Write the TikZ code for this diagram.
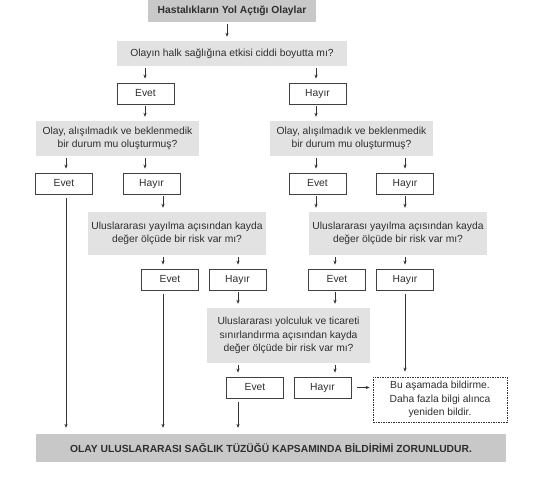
\documentclass[tikz,border=0pt]{standalone}
\usepackage{fontspec}
\setmainfont{Liberation Sans}
\usetikzlibrary{arrows.meta}
\definecolor{darkfill}{HTML}{C8C8C8}
\definecolor{lightfill}{HTML}{E2E2E2}
\definecolor{inkgray}{HTML}{2E2E2E}
\tikzset{
every node/.style=
    {inner sep=0pt,
    text=inkgray,
    font=\fontsize{10.3}{13.7}\selectfont,
    align=center
    },
titlebox/.style=
    {fill=darkfill,
    minimum width=168,
    minimum height=22,
    font=\fontsize{10.3}{13.7}\selectfont\bfseries
    },
questionbox/.style=
    {fill=lightfill,
    minimum height=#1
    },
answerbox/.style=
    {draw=black!75,
    line width=0.8pt,
    fill=white,
    minimum width=57,
    minimum height=21,
    text height=7.5pt,
    text depth=2pt
    },
notebox/.style=
    {draw=black!80,
    dash pattern=on 1.5pt off 1pt,
    line width=0.7pt,
    minimum width=134,
    minimum height=45
    },
finalbox/.style=
    {fill=darkfill,
    minimum width=470,
    minimum height=28,
    font=\fontsize{10.3}{13.7}\selectfont\bfseries
    },
arr/.style=
    {draw=black!80,
    line width=0.6pt,
    -{Stealth[length=4pt,width=3.2pt]},
    shorten <=2pt,
    shorten >=4pt
    },
longarr/.style=
    {arr,
    shorten <=4pt,
    shorten >=6pt
    }}

\begin{document}
\begin{tikzpicture}[x=1pt,y=-1pt]
\useasboundingbox (0,0) rectangle (552,477);

\coordinate (xa) at (66,0);
\coordinate (xb) at (145,0);
\coordinate (xc) at (163,0);
\coordinate (xd) at (227,0);
\coordinate (xe) at (238,0);
\coordinate (xf) at (316,0);
\coordinate (xg) at (335,0);
\coordinate (xh) at (405,0);

\node[titlebox] (title) at (232,11) {Hastalıkların Yol Açtığı Olaylar};
\node[questionbox=25, minimum width=230] (q1) at (232,53.5) {Olayın halk sağlığına etkisi ciddi boyutta mı?};
\node[answerbox] (ev1) at (145.5,93.5) {Evet};
\node[answerbox] (hy1) at (317.5,93.5) {Hayır};

\node[questionbox=35, minimum width=163] (q2l) at (117.5,138.5) {Olay, alışılmadık ve beklenmedik\\bir durum mu oluşturmuş?};
\node[questionbox=35, minimum width=163] (q2r) at (351.5,138.5) {Olay, alışılmadık ve beklenmedik\\bir durum mu oluşturmuş?};
\node[answerbox] (ev2l) at (64,183.5) {Evet};
\node[answerbox] (hy2l) at (151.5,183.5) {Hayır};
\node[answerbox] (ev2r) at (317.5,183.5) {Evet};
\node[answerbox] (hy2r) at (405,183.5) {Hayır};

\node[questionbox=43, minimum width=178] (q3l) at (177,233.5) {Uluslararası yayılma açısından kayda\\değer ölçüde bir risk var mı?};
\node[questionbox=43, minimum width=178] (q3r) at (398,233.5) {Uluslararası yayılma açısından kayda\\değer ölçüde bir risk var mı?};
\node[answerbox] (ev3l) at (170,279.5) {Evet};
\node[answerbox] (hy3l) at (237.5,279.5) {Hayır};
\node[answerbox] (ev3r) at (337,279.5) {Evet};
\node[answerbox] (hy3r) at (405,279.5) {Hayır};

\node[questionbox=55, minimum width=163] (q4) at (288.5,335.5) {Uluslararası yolculuk ve ticareti\\sınırlandırma açısından kayda\\değer ölçüde bir risk var mı?};
\node[answerbox] (ev4) at (255,387.5) {Evet};
\node[answerbox] (hy4) at (322.5,387.5) {Hayır};
\node[notebox] (note) at (440,399.5) {Bu aşamada bildirme.\\Daha fazla bilgi alınca\\yeniden bildir.};

\node[finalbox] (final) at (271,448) {OLAY ULUSLARARASI SAĞLIK TÜZÜĞÜ KAPSAMINDA BİLDİRİMİ ZORUNLUDUR.};

\draw[arr] (title.south -| xd) -- (q1.north -| xd);
\draw[arr] (q1.south -| xb) -- (ev1.north -| xb);
\draw[arr] (q1.south -| xf) -- (hy1.north -| xf);
\draw[arr] (ev1.south -| xb) -- (q2l.north -| xb);
\draw[arr] (hy1.south -| xf) -- (q2r.north -| xf);

\draw[arr] (q2l.south -| xa) -- (ev2l.north -| xa);
\draw[arr] (q2l.south -| xb) -- (hy2l.north -| xb);
\draw[arr] (q2r.south -| xf) -- (ev2r.north -| xf);
\draw[arr] (q2r.south -| xh) -- (hy2r.north -| xh);
\draw[arr] (hy2l.south -| xc) -- (q3l.north -| xc);
\draw[arr] (ev2r.south -| xf) -- (q3r.north -| xf);
\draw[arr] (hy2r.south -| xh) -- (q3r.north -| xh);

\draw[arr] (q3l.south -| xc) -- (ev3l.north -| xc);
\draw[arr] (q3l.south -| xe) -- (hy3l.north -| xe);
\draw[arr] (q3r.south -| xg) -- (ev3r.north -| xg);
\draw[arr] (q3r.south -| xh) -- (hy3r.north -| xh);
\draw[arr] (hy3l.south -| xe) -- (q4.north -| xe);
\draw[arr] (ev3r.south -| xg) -- (q4.north -| xg);

\draw[arr] (q4.south -| xe) -- (ev4.north -| xe);
\draw[arr] (q4.south -| xg) -- (hy4.north -| xg);
\draw[arr, shorten <=6pt, shorten >=3pt] (hy4.east) -- (hy4.east -| note.west);

\draw[longarr] (ev2l.south -| xa) -- (final.north -| xa);
\draw[longarr] (ev3l.south -| xc) -- (final.north -| xc);
\draw[longarr] (ev4.south -| xe) -- (final.north -| xe);
\draw[longarr, shorten >=5pt] (hy3r.south -| xh) -- (note.north -| xh);

\end{tikzpicture}
\end{document}
